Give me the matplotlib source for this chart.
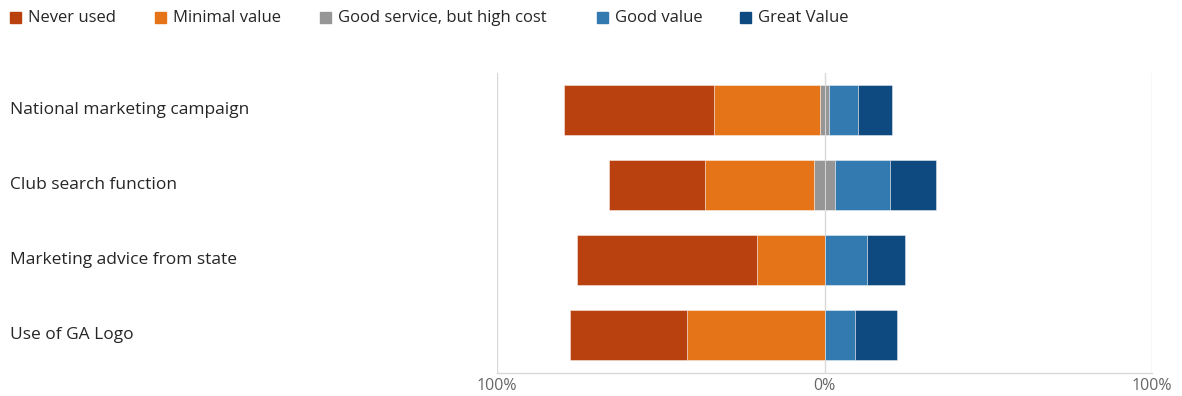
import matplotlib
matplotlib.use("Agg")
import matplotlib.pyplot as plt
import matplotlib.transforms as mtransforms
from matplotlib.patches import Rectangle
import numpy as np

plt.rcParams['font.family'] = ['Open Sans', 'DejaVu Sans']

categories = ["National marketing campaign", "Club search function",
              "Marketing advice from state", "Use of GA Logo"]
series_names = ["Never used", "Minimal value", "Good service, but high cost",
                "Good value", "Great Value"]
never_used = [45.8, 29.5, 55.0, 35.9]
minimal_value = [32.4, 33.3, 20.5, 41.9]
high_cost = [2.7, 6.2, 0.0, 0.0]
good_value = [8.9, 16.8, 13.0, 9.3]
great_value = [10.4, 14.2, 11.5, 12.9]
tick_values = [-100, 0, 100]
tick_labels = ["100%", "0%", "100%"]

colors = ["#B9410F", "#E57419", "#969696", "#337AB0", "#0E4A80"]

W, H = 1182, 396
fig = plt.figure(figsize=(W / 100, H / 100), dpi=100)
ax = fig.add_axes([497 / W, 1 - 372.5 / H, (1152 - 497) / W, (372.5 - 72.5) / H])

y = np.arange(len(categories))
nu = np.array(never_used)
mv = np.array(minimal_value)
hc = np.array(high_cost)
gv = np.array(good_value)
gr = np.array(great_value)

bh = 0.66
ekw = dict(edgecolor=(1, 1, 1, 0.5), linewidth=0.6, height=bh)
# negative side
ax.barh(y, -hc / 2, left=0, color=colors[2], **ekw)
ax.barh(y, -mv, left=-hc / 2, color=colors[1], **ekw)
ax.barh(y, -nu, left=-hc / 2 - mv, color=colors[0], **ekw)
# positive side
ax.barh(y, hc / 2, left=0, color=colors[2], **ekw)
ax.barh(y, gv, left=hc / 2, color=colors[3], **ekw)
ax.barh(y, gr, left=hc / 2 + gv, color=colors[4], **ekw)

ax.set_xlim(-100, 100)
ax.set_ylim(len(categories) - 0.5, -0.5)
ax.set_xticks(tick_values)
ax.set_xticklabels(tick_labels)
ax.tick_params(axis='x', length=0, pad=4, labelsize=11.5, labelcolor="#666666")
ax.set_yticks([])
for s in ["top", "left", "right"]:
    ax.spines[s].set_visible(False)
ax.spines["bottom"].set_color("#d9d9d9")
ax.spines["bottom"].set_linewidth(1)
ax.set_axisbelow(True)
ax.grid(axis='x', color="#d9d9d9", linewidth=1)
ax.grid(axis='y', visible=False)

# category labels
trans = mtransforms.blended_transform_factory(fig.transFigure, ax.transData)
for i, c in enumerate(categories):
    ax.text(10 / W, i, c, transform=trans, ha='left', va='center',
            fontsize=12.5, color="#262626")

# legend
sq_x = [10, 155, 320, 597, 740]
for sx, name, col in zip(sq_x, series_names, colors):
    fig.patches.append(Rectangle((sx / W, 1 - 23 / H), 11 / W, 11 / H,
                                 transform=fig.transFigure, color=col))
    fig.text((sx + 18) / W, 1 - 18 / H, name, ha='left', va='center',
             fontsize=12, color="#262626")

fig.savefig("out.png", dpi=100)
